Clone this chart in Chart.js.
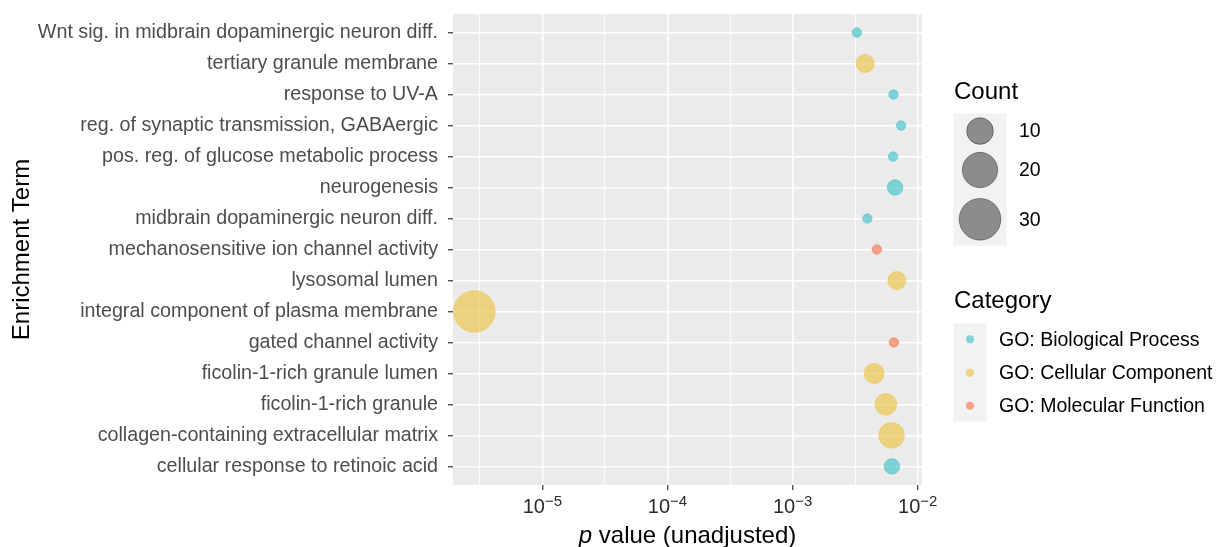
<!DOCTYPE html>
<html>
<head>
<meta charset="utf-8">
<script src="https://cdn.jsdelivr.net/npm/chart.js@4"></script>
<style>
  html, body { margin: 0; padding: 0; background: #ffffff; }
  #wrap { width: 1224px; height: 547px; position: relative; }
</style>
</head>
<body>
<div id="wrap"><canvas id="enrichChart"></canvas></div>
<script>
// enrichment terms, top to bottom
const terms = [
    'Wnt sig. in midbrain dopaminergic neuron diff.',
    'tertiary granule membrane',
    'response to UV-A',
    'reg. of synaptic transmission, GABAergic',
    'pos. reg. of glucose metabolic process',
    'neurogenesis',
    'midbrain dopaminergic neuron diff.',
    'mechanosensitive ion channel activity',
    'lysosomal lumen',
    'integral component of plasma membrane',
    'gated channel activity',
    'ficolin-1-rich granule lumen',
    'ficolin-1-rich granule',
    'collagen-containing extracellular matrix',
    'cellular response to retinoic acid'
];
const pValues = [
    3.26e-3, 3.80e-3, 6.40e-3, 7.36e-3, 6.35e-3,
    6.59e-3, 3.96e-3, 4.71e-3, 6.81e-3, 2.86e-6,
    6.45e-3, 4.48e-3, 5.56e-3, 6.17e-3, 6.21e-3
];
const counts = [2, 4, 2, 2, 2, 3, 2, 2, 4, 30, 2, 5, 6, 9, 3];
const termCategory = [
    'GO: Biological Process', 'GO: Cellular Component', 'GO: Biological Process',
    'GO: Biological Process', 'GO: Biological Process', 'GO: Biological Process',
    'GO: Biological Process', 'GO: Molecular Function', 'GO: Cellular Component',
    'GO: Cellular Component', 'GO: Molecular Function', 'GO: Cellular Component',
    'GO: Cellular Component', 'GO: Cellular Component', 'GO: Biological Process'
];
const categoryNames = ['GO: Biological Process', 'GO: Cellular Component', 'GO: Molecular Function'];
const countBreaks = [10, 20, 30];
const xTickExponents = [-5, -4, -3, -2];

const categoryColors = ['rgba(78,196,204,0.7)', 'rgba(236,200,80,0.7)', 'rgba(243,125,90,0.7)'];
const FONT = "'Liberation Sans', Arial, sans-serif";

// ggplot-like area scale: diameter grows with sqrt of rescaled count
const COUNT_MIN = Math.min(...counts), COUNT_MAX = Math.max(...counts);
function bubbleDiameter(n) {
    const t = Math.max(0, (n - COUNT_MIN) / (COUNT_MAX - COUNT_MIN));
    return 9.5 + (41.7 - 9.5) * Math.sqrt(t);
}

function isMajor(v) {
    const e = Math.log10(v);
    return Math.abs(e - Math.round(e)) < 1e-6;
}

const datasets = categoryNames.map((name, c) => ({
    label: name,
    data: terms
        .map((t, i) => ({ x: pValues[i], y: i, count: counts[i], cat: termCategory[i] }))
        .filter(d => d.cat === name),
    backgroundColor: categoryColors[c],
    borderColor: categoryColors[c],
    borderWidth: 0.8,
    radius: (ctx) => ctx.raw ? bubbleDiameter(ctx.raw.count) / 2 : 0
}));

const panelBackground = {
    id: 'panelBackground',
    beforeDraw(chart) {
        const { ctx, chartArea: a } = chart;
        ctx.save();
        ctx.fillStyle = '#EBEBEB';
        ctx.fillRect(a.left, a.top, a.right - a.left, a.bottom - a.top);
        ctx.restore();
    }
};

const extraText = {
    id: 'extraText',
    afterDraw(chart) {
        const { ctx, chartArea: a } = chart;
        const xs = chart.scales.x;
        ctx.save();
        ctx.textAlign = 'left';
        ctx.textBaseline = 'alphabetic';

        // x tick labels with superscript exponents
        xTickExponents.forEach(e => {
            const px = xs.getPixelForValue(Math.pow(10, e));
            const base = '10', sup = '\u2212' + Math.abs(e);
            ctx.font = '20px ' + FONT;
            const wb = ctx.measureText(base).width;
            ctx.font = '15px ' + FONT;
            const ws = ctx.measureText(sup).width;
            const x0 = px - (wb + ws) / 2;
            ctx.fillStyle = '#2B2B2B';
            ctx.font = '20px ' + FONT;
            ctx.fillText(base, x0, xs.top + 28);
            ctx.font = '15px ' + FONT;
            ctx.fillText(sup, x0 + wb, xs.top + 21);
        });

        // x axis title with italic p
        ctx.fillStyle = '#000000';
        ctx.font = 'italic 24px ' + FONT;
        const pW = ctx.measureText('p').width;
        ctx.font = '24px ' + FONT;
        const rest = ' value (unadjusted)';
        const rW = ctx.measureText(rest).width;
        const cx = (a.left + a.right) / 2;
        const tx = cx - (pW + rW) / 2;
        ctx.font = 'italic 24px ' + FONT;
        ctx.fillText('p', tx, xs.top + 58);
        ctx.font = '24px ' + FONT;
        ctx.fillText(rest, tx + pW, xs.top + 58);

        // legends
        const lx = a.right + 32;
        ctx.fillStyle = '#000000';
        ctx.font = '24px ' + FONT;
        ctx.fillText('Count', lx, 99);
        ctx.fillStyle = '#F2F2F2';
        ctx.fillRect(lx - 0.7, 113.3, 53.4, 132.4);
        const countY = [131, 170, 219.3];
        countBreaks.forEach((b, i) => {
            const r = bubbleDiameter(b) / 2;
            ctx.beginPath();
            ctx.arc(lx + 26, countY[i], r, 0, Math.PI * 2);
            ctx.fillStyle = 'rgba(0,0,0,0.42)';
            ctx.fill();
            ctx.lineWidth = 0.8;
            ctx.strokeStyle = 'rgba(0,0,0,0.45)';
            ctx.stroke();
            ctx.fillStyle = '#000000';
            ctx.font = '19.5px ' + FONT;
            ctx.textBaseline = 'middle';
            ctx.fillText(String(b), lx + 65, countY[i] + 1);
            ctx.textBaseline = 'alphabetic';
        });

        ctx.fillStyle = '#000000';
        ctx.font = '24px ' + FONT;
        ctx.fillText('Category', lx, 308);
        ctx.fillStyle = '#F2F2F2';
        ctx.fillRect(lx - 0.7, 323.3, 33.4, 98.4);
        const catY = [339.3, 372.7, 405.7];
        categoryNames.forEach((name, i) => {
            ctx.beginPath();
            ctx.arc(lx + 16, catY[i], 4, 0, Math.PI * 2);
            ctx.fillStyle = categoryColors[i];
            ctx.fill();
            ctx.fillStyle = '#000000';
            ctx.font = '19.5px ' + FONT;
            ctx.textBaseline = 'middle';
            ctx.fillText(name, lx + 45, catY[i] + 1);
            ctx.textBaseline = 'alphabetic';
        });
        ctx.restore();
    }
};

new Chart(document.getElementById('enrichChart').getContext('2d'), {
    type: 'bubble',
    data: { datasets: datasets },
    plugins: [panelBackground, extraText],
    options: {
        responsive: true,
        maintainAspectRatio: false,
        animation: false,
        events: [],
        layout: {
            autoPadding: false,
            padding: { top: 14, right: 302, left: 0, bottom: 0 }
        },
        plugins: {
            legend: { display: false },
            tooltip: { enabled: false }
        },
        scales: {
            x: {
                type: 'logarithmic',
                bounds: 'data',
                min: Math.pow(10, -5.714),
                max: Math.pow(10, -1.966),
                afterBuildTicks: (scale) => {
                    const ticks = [];
                    for (let e = -5.5; e <= -2; e += 0.5) ticks.push({ value: Math.pow(10, e) });
                    scale.ticks = ticks;
                },
                afterFit: (scale) => {
                    scale.height = 62;
                    scale.paddingLeft = 0;
                    scale.paddingRight = 0;
                },
                border: { display: false },
                grid: {
                    color: '#FFFFFF',
                    lineWidth: (ctx) => ctx.tick && isMajor(ctx.tick.value) ? 1.5 : 0.8,
                    drawTicks: true,
                    tickLength: 5,
                    tickWidth: 1.2,
                    tickColor: (ctx) => ctx.tick && isMajor(ctx.tick.value) ? '#333333' : 'rgba(0,0,0,0)'
                },
                ticks: { display: false, autoSkip: false }
            },
            y: {
                type: 'linear',
                reverse: true,
                bounds: 'data',
                min: -0.6,
                max: terms.length - 1 + 0.6,
                afterBuildTicks: (scale) => {
                    scale.ticks = terms.map((t, i) => ({ value: i }));
                },
                afterFit: (scale) => {
                    scale.width = 453;
                    scale.paddingTop = 0;
                    scale.paddingBottom = 0;
                },
                border: { display: false },
                grid: {
                    color: '#FFFFFF',
                    lineWidth: 1.5,
                    drawTicks: true,
                    tickLength: 5,
                    tickWidth: 1.2,
                    tickColor: '#333333'
                },
                ticks: {
                    autoSkip: false,
                    padding: 10,
                    color: '#4D4D4D',
                    font: { family: FONT, size: 19.7 },
                    callback: (value) => terms[value] !== undefined ? terms[value] : ''
                },
                title: {
                    display: true,
                    text: 'Enrichment Term',
                    color: '#000000',
                    font: { family: FONT, size: 24 },
                    padding: { top: 8, bottom: 0 }
                }
            }
        }
    }
});
</script>
</body>
</html>
